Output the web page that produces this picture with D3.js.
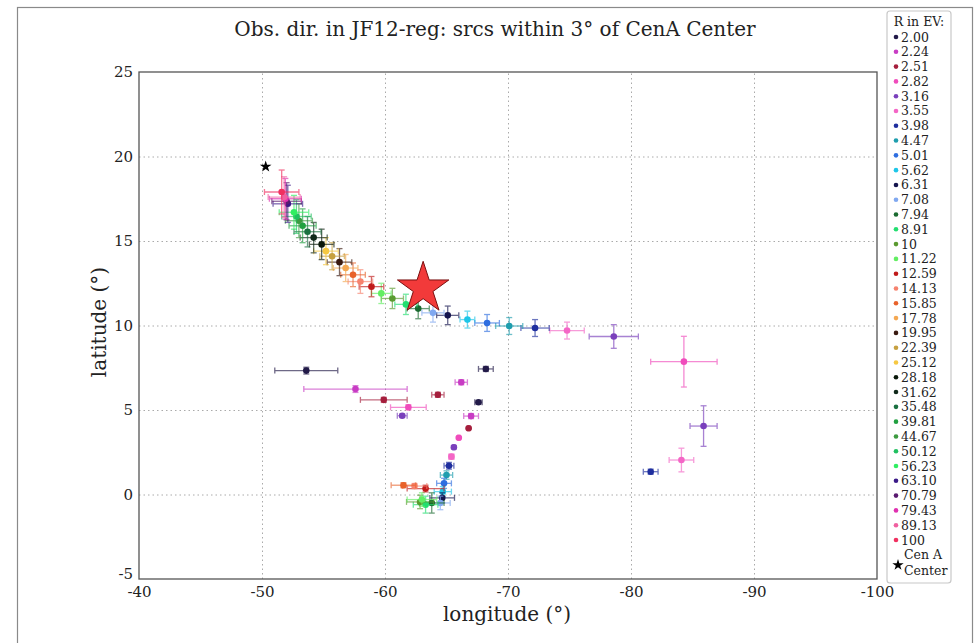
<!DOCTYPE html>
<head>
<meta charset="utf-8">
<script src="https://d3js.org/d3.v7.min.js"></script>
<style>
  body { margin: 0; background: #fff; }
  svg text { font-family: "DejaVu Serif", serif; fill: #222; }
</style>
</head>
<body>
<div id="container"></div>
<script>
// rigidity bins (legend order) and their colours
const rigidityLabels = ['2.00','2.24','2.51','2.82','3.16','3.55','3.98','4.47','5.01','5.62',
  '6.31','7.08','7.94','8.91','10','11.22','12.59','14.13','15.85','17.78',
  '19.95','22.39','25.12','28.18','31.62','35.48','39.81','44.67','50.12','56.23',
  '63.10','70.79','79.43','89.13','100'];
const rigidityColors = ['#221a48','#c83cc4','#a51e3c','#f04cbc','#7a40bc','#f466c6','#1e2e9e','#1e9eae','#2e6ee0','#1ec6e8',
  '#15154e','#80a8f0','#1a6a30','#22de70','#5a9a30','#62ee62','#c01a1a','#f6826e','#e8622a','#f4a852',
  '#3a1a10','#c6a040','#f6c842','#0a180a','#10281a','#1a7040','#20a040','#3c9a40','#20c060','#30ee62',
  '#3a1a88','#5a1a70','#e030b0','#f060a0','#f03060'];

// source 1: the long upper track
const src1_R    = ['2.82','3.16','3.55','3.98','4.47','5.01','5.62','6.31','7.08','7.94','8.91','10','11.22','12.59','14.13','15.85','17.78','19.95','22.39','25.12','28.18','31.62','35.48','39.81','44.67','50.12','56.23','63.10','70.79','79.43','89.13','100'];
const src1_lon  = [-84.3,-78.6,-74.8,-72.2,-70.1,-68.3,-66.7,-65.1,-63.9,-62.7,-61.7,-60.6,-59.7,-58.9,-58.0,-57.4,-56.8,-56.3,-55.7,-55.2,-54.85,-54.2,-53.7,-53.3,-53.0,-52.8,-52.6,-52.1,-52.0,-51.9,-51.8,-51.6];
const src1_lat  = [7.86,9.35,9.7,9.85,9.97,10.15,10.35,10.6,10.75,11.0,11.25,11.6,11.9,12.3,12.6,13.0,13.4,13.75,14.1,14.4,14.8,15.2,15.55,15.9,16.2,16.45,16.7,17.2,17.35,17.5,17.6,17.9];
const src1_dLon = [2.7,2.0,1.4,1.15,1.1,1.0,0.6,0.9,0.9,0.9,0.9,0.9,0.8,1.0,1.0,1.0,1.0,1.0,1.0,1.0,1.0,1.1,1.1,1.1,1.1,1.2,1.2,1.2,1.2,1.3,1.3,1.4];
const src1_dLat = [1.5,0.7,0.5,0.5,0.5,0.5,0.5,0.55,0.55,0.6,0.6,0.6,0.6,0.6,0.7,0.7,0.8,0.8,0.8,0.8,0.9,0.9,0.9,1.0,1.0,1.0,1.0,1.1,1.1,1.2,1.2,1.3];

// source 2: far right, low rigidity
const src2_R    = ['3.16','3.55','3.98'];
const src2_lon  = [-85.9,-84.1,-81.6];
const src2_lat  = [4.05,2.04,1.35];
const src2_dLon = [1.1,1.0,0.6];
const src2_dLat = [1.2,0.7,0.15];

// source 3: lower V-shaped track
const src3_R    = ['2.00','2.24','2.51','2.82','3.16','3.55','3.98','4.47','5.01','5.62','6.31','7.08','7.94','8.91','10','11.22','12.59','14.13','15.85'];
const src3_lon  = [-67.6,-67.0,-66.8,-66.0,-65.6,-65.4,-65.2,-65.0,-64.8,-64.7,-64.65,-64.5,-63.8,-63.3,-62.85,-63.0,-63.3,-62.4,-61.5];
const src3_lat  = [5.46,4.64,3.92,3.36,2.8,2.24,1.7,1.15,0.66,0.17,-0.2,-0.5,-0.5,-0.6,-0.44,-0.3,0.35,0.5,0.55];
const src3_dLon = [0.3,0.6,0.1,0.1,0.1,0.2,0.4,0.5,0.6,0.7,1.0,0.8,1.0,1.0,1.1,1.2,1.5,1.0,1.0];
const src3_dLat = [0.1,0.15,0.05,0.05,0.1,0.15,0.2,0.25,0.3,0.3,0.3,0.4,0.6,0.5,0.4,0.4,0.2,0.15,0.15];

// source 4: left group with wide longitude errors
const src4_R    = ['2.00','2.24','2.51','2.82','3.16'];
const src4_lon  = [-53.6,-57.6,-59.9,-61.9,-61.4];
const src4_lat  = [7.33,6.24,5.6,5.16,4.66];
const src4_dLon = [2.56,4.2,1.9,1.45,0.4];
const src4_dLat = [0.2,0.2,0.15,0.15,0.1];

// source 5: short track top right of the V
const src5_R    = ['2.00','2.24','2.51'];
const src5_lon  = [-68.2,-66.2,-64.3];
const src5_lat  = [7.43,6.64,5.9];
const src5_dLon = [0.6,0.5,0.5];
const src5_dLat = [0.15,0.15,0.15];

const cenA = [-50.3, 19.4];
const bigStar = [-63.1, 12.2];

const xTicks = [-40,-50,-60,-70,-80,-90,-100];
const yTicks = [-5,0,5,10,15,20,25];

const w = 975, h = 643;
const mLeft = 139, mRight = 877, mTop = 72, mBottom = 579;
const serif = '"DejaVu Serif", serif';

const svg = d3.select('#container').append('svg')
  .attr('width', w).attr('height', h);

// figure frame
svg.append('rect')
  .attr('x', 17.5).attr('y', 7.5).attr('width', 955).attr('height', 660)
  .attr('fill', 'none').attr('stroke', '#8a8a8a').attr('stroke-width', 1.2);

const x = d3.scaleLinear().domain([-40, -100]).range([mLeft, mRight]);
const y = d3.scaleLinear().domain([-5, 25]).range([mBottom, mTop]);

// grid
svg.append('g')
  .attr('transform', 'translate(0,' + mBottom + ')')
  .call(d3.axisBottom(x).tickValues(xTicks.slice(1, -1)).tickSize(-(mBottom - mTop)).tickFormat(''))
  .call(g => g.select('.domain').remove())
  .selectAll('line').attr('stroke', '#aaa').attr('stroke-dasharray', '1.5,3');
svg.append('g')
  .attr('transform', 'translate(' + mLeft + ',0)')
  .call(d3.axisLeft(y).tickValues(yTicks.slice(1, -1)).tickSize(-(mRight - mLeft)).tickFormat(''))
  .call(g => g.select('.domain').remove())
  .selectAll('line').attr('stroke', '#aaa').attr('stroke-dasharray', '1.5,3');

// tick labels
const xAxis = svg.append('g')
  .attr('transform', 'translate(0,' + mBottom + ')')
  .call(d3.axisBottom(x).tickValues(xTicks).tickSize(0).tickPadding(7).tickFormat(d => d))
  .attr('font-family', serif).attr('font-size', 15);
xAxis.select('.domain').remove();
xAxis.selectAll('text').attr('fill', '#222');

const yAxis = svg.append('g')
  .attr('transform', 'translate(' + mLeft + ',0)')
  .call(d3.axisLeft(y).tickValues(yTicks).tickSize(0).tickPadding(6).tickFormat(d => d))
  .attr('font-family', serif).attr('font-size', 15);
yAxis.select('.domain').remove();
yAxis.selectAll('text').attr('fill', '#222');
yAxis.selectAll('.tick').filter(d => d === -5).select('text').attr('dy', '-0.05em');

// collect all points, draw in rigidity order
const sources = [
  [src1_R, src1_lon, src1_lat, src1_dLon, src1_dLat],
  [src2_R, src2_lon, src2_lat, src2_dLon, src2_dLat],
  [src3_R, src3_lon, src3_lat, src3_dLon, src3_dLat],
  [src4_R, src4_lon, src4_lat, src4_dLon, src4_dLat],
  [src5_R, src5_lon, src5_lat, src5_dLon, src5_dLat]
];
let pts = [];
sources.forEach(s => {
  s[0].forEach((r, i) => {
    pts.push({ k: rigidityLabels.indexOf(r), lon: s[1][i], lat: s[2][i], dlon: s[3][i], dlat: s[4][i] });
  });
});
pts.sort((a, b) => a.k - b.k);

const cap = 3;
const plot = svg.append('g');
pts.forEach(d => {
  const c = rigidityColors[d.k];
  const g = plot.append('g');
  const eb = g.append('g').attr('stroke', c).attr('stroke-width', 1.3).attr('opacity', 0.65);
  eb.append('line').attr('x1', x(d.lon - d.dlon)).attr('x2', x(d.lon + d.dlon)).attr('y1', y(d.lat)).attr('y2', y(d.lat));
  eb.append('line').attr('x1', x(d.lon)).attr('x2', x(d.lon)).attr('y1', y(d.lat - d.dlat)).attr('y2', y(d.lat + d.dlat));
  [d.lon - d.dlon, d.lon + d.dlon].forEach(v => {
    eb.append('line').attr('x1', x(v)).attr('x2', x(v)).attr('y1', y(d.lat) - cap).attr('y2', y(d.lat) + cap);
  });
  [d.lat - d.dlat, d.lat + d.dlat].forEach(v => {
    eb.append('line').attr('x1', x(d.lon) - cap).attr('x2', x(d.lon) + cap).attr('y1', y(v)).attr('y2', y(v));
  });
  g.append('circle').attr('cx', x(d.lon)).attr('cy', y(d.lat)).attr('r', 3.3).attr('fill', c);
});

// Cen A centre
svg.append('path')
  .attr('d', d3.symbol().type(d3.symbolStar).size(42)())
  .attr('transform', 'translate(' + x(cenA[0]) + ',' + y(cenA[1]) + ')')
  .attr('fill', '#000');

// big red star
svg.append('path')
  .attr('d', d3.symbol().type(d3.symbolStar).size(820)())
  .attr('transform', 'translate(' + x(bigStar[0]) + ',' + y(bigStar[1]) + ')')
  .attr('fill', '#f23a3a').attr('stroke', '#7a1010').attr('stroke-width', 1);

// axes frame
svg.append('rect')
  .attr('x', mLeft).attr('y', mTop).attr('width', mRight - mLeft).attr('height', mBottom - mTop)
  .attr('fill', 'none').attr('stroke', '#555').attr('stroke-width', 1.3);

// title and axis labels
svg.append('text').attr('x', 495).attr('y', 36).attr('text-anchor', 'middle')
  .style('font-size', '20px').text('Obs. dir. in JF12-reg: srcs within 3° of CenA Center');
svg.append('text').attr('x', 507).attr('y', 621).attr('text-anchor', 'middle')
  .style('font-size', '20px').text('longitude (°)');
svg.append('text').attr('transform', 'translate(106,' + 322 + ') rotate(-90)').attr('text-anchor', 'middle')
  .style('font-size', '20px').text('latitude (°)');

// legend
const lg = svg.append('g');
lg.append('rect').attr('x', 887).attr('y', 11).attr('width', 64).attr('height', 572).attr('rx', 3)
  .attr('fill', '#fff').attr('stroke', '#c8c8c8').attr('stroke-width', 1.2);
lg.append('text').attr('x', 919).attr('y', 26).attr('text-anchor', 'middle').style('font-size', '12.5px').text('R in EV:');
const ly = d3.scaleLinear().domain([0, rigidityLabels.length - 1]).range([37, 540]);
rigidityLabels.forEach((lab, i) => {
  lg.append('circle').attr('cx', 896).attr('cy', ly(i)).attr('r', 2.3).attr('fill', rigidityColors[i]);
  lg.append('text').attr('x', 901).attr('y', ly(i) + 4.5).style('font-size', '12.5px').text(lab);
});
lg.append('path')
  .attr('d', d3.symbol().type(d3.symbolStar).size(40)())
  .attr('transform', 'translate(898,565)').attr('fill', '#000');
lg.append('text').attr('x', 904).attr('y', 559).style('font-size', '12.5px').text('Cen A');
lg.append('text').attr('x', 904).attr('y', 575).style('font-size', '12.5px').text('Center');
</script>
</body>
